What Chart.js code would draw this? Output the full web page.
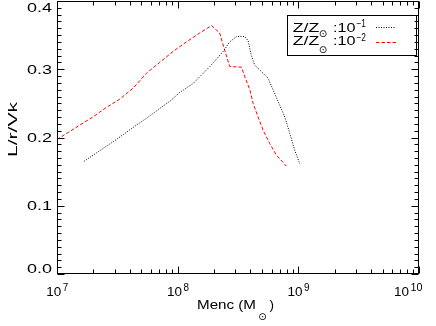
<!DOCTYPE html>
<html>
<head>
<meta charset="utf-8">
<script src="https://cdn.jsdelivr.net/npm/chart.js@4.4.1/dist/chart.umd.min.js"></script>
<style>
html,body{margin:0;padding:0;background:#fff;}
#wrap{width:436px;height:326px;position:relative;}
</style>
</head>
<body>
<div id="wrap"><canvas id="c" width="436" height="326"></canvas></div>
<script>
// Data
const massRedZ2 = [1.00e7,1.54e7,1.98e7,2.56e7,3.30e7,4.26e7,5.50e7,7.10e7,9.14e7,1.18e8,1.52e8,1.91e8,2.23e8,2.45e8,2.70e8,3.38e8,3.60e8,3.96e8,4.22e8,4.64e8,5.10e8,5.80e8,6.59e8,7.98e8];
const ratioRedZ2 = [0.197,0.218,0.230,0.244,0.256,0.272,0.294,0.310,0.326,0.340,0.353,0.364,0.353,0.328,0.304,0.303,0.289,0.270,0.250,0.230,0.211,0.191,0.174,0.158];
const massBlackZ1 = [1.67e7,3.10e7,4.54e7,5.86e7,8.87e7,1.04e8,1.34e8,1.85e8,2.38e8,2.70e8,3.07e8,3.60e8,3.83e8,4.08e8,4.35e8,4.79e8,5.61e8,6.17e8,7.02e8,7.73e8,8.49e8,9.35e8,1.03e9];
const ratioBlackZ1 = [0.165,0.197,0.218,0.2315,0.255,0.266,0.279,0.304,0.326,0.340,0.348,0.348,0.342,0.320,0.306,0.299,0.287,0.270,0.247,0.230,0.206,0.181,0.161];
const xTickValues = [1e7,1e8,1e9,1e10];
const xTickExponents = ['7','8','9','10'];
const yTickValues = [0.0,0.1,0.2,0.3,0.4];
const legendExponents = ['\u22121','\u22122'];
const legendBase = 'Z/Z';
const xTitle = 'Menc (M';
const yTitle = 'L/r/Vk';

const FONT = "'Liberation Sans', Arial, sans-serif";
const SUNFONT = "'DejaVu Sans', sans-serif";
const SUN = '\u2299';
Chart.defaults.font.family = FONT;
Chart.defaults.font.size = 13;
Chart.defaults.color = '#000';

// draw text left-aligned at x, horizontally stretched to the given width (wide IDL-like glyphs)
function fitText(ctx, text, x, y, width){
  ctx.textAlign = 'left';
  const m = ctx.measureText(text).width;
  const sx = width / m;
  ctx.save();
  ctx.translate(x, y);
  ctx.scale(sx, 1);
  ctx.fillText(text, 0, 0);
  ctx.restore();
}

const decor = {
  id: 'decor',
  afterDraw(chart){
    const ctx = chart.ctx, a = chart.chartArea;
    const xs = chart.scales.x, ys = chart.scales.y;
    const L = Math.round(a.left)+0.5, R = Math.round(a.right)-0.5, T = Math.round(a.top)+0.5, B = Math.round(a.bottom)-0.5;
    ctx.save();
    ctx.strokeStyle = '#000'; ctx.lineWidth = 1; ctx.setLineDash([]);
    ctx.strokeRect(L, T, R-L, B-T);
    ctx.beginPath();
    for (let i=0;i<=40;i++){
      const y = Math.round(ys.getPixelForValue(i/100))+0.5;
      const len = (i%10===0)?7:4;
      ctx.moveTo(L, y); ctx.lineTo(L+len, y);
      ctx.moveTo(R, y); ctx.lineTo(R-len, y);
    }
    for (let d=7; d<=10; d++){
      for (let m=1; m<=9; m++){
        if (d===10 && m>1) break;
        const x = Math.round(xs.getPixelForValue(m*Math.pow(10,d)))+0.5;
        const len = (m===1)?7:4;
        ctx.moveTo(x, B); ctx.lineTo(x, B-len);
        ctx.moveTo(x, T); ctx.lineTo(x, T+len);
      }
    }
    ctx.stroke();

    ctx.fillStyle = '#000';
    ctx.textBaseline = 'alphabetic';

    // y tick labels (clamped inside the axis extent like the reference)
    ctx.font = "13px " + FONT;
    yTickValues.forEach(v=>{
      let yc = ys.getPixelForValue(v);
      yc = Math.min(Math.max(yc, a.top+6.5), a.bottom-5.5);
      fitText(ctx, v.toFixed(1), 27, yc+4.7, 25);
    });

    // x tick labels 10^n
    xTickValues.forEach((v,i)=>{
      const x = xs.getPixelForValue(v);
      const e = xTickExponents[i];
      const wBase = 16, wExp = e.length*6.5;
      let left = x - (wBase + wExp)/2 + 0.5;
      if (left + wBase + wExp > a.right + 4) left = a.right + 4 - wBase - wExp;
      ctx.font = "13px " + FONT;
      fitText(ctx, '10', left, 295.5, wBase-1);
      ctx.font = "10px " + FONT;
      fitText(ctx, e, left + wBase + 0.5, 290.5, wExp-1);
    });

    // legend box
    ctx.strokeRect(287.5, 15.5, 129, 40);
    const rows = [{y:31.7, sun:34.5, ey:27, ds:[1,1.5], col:'#000', ly:27.5},
                  {y:45, sun:50.5, ey:40.5, ds:[3.5,2], col:'#ff0000', ly:42.5}];
    legendExponents.forEach((ex,i)=>{
      const r = rows[i];
      ctx.font = "13px " + FONT;
      fitText(ctx, legendBase, 292.7, r.y, 26.5);
      ctx.font = "10px " + SUNFONT;
      ctx.textAlign = 'center'; ctx.textBaseline='middle';
      ctx.fillText(SUN, 323, r.sun);
      ctx.textBaseline='alphabetic';
      ctx.font = "13px " + FONT;
      fitText(ctx, ':10', 333, r.y, 22.5);
      ctx.font = "10px " + FONT;
      fitText(ctx, ex, 356.5, r.ey, 9.5);
      ctx.save();
      ctx.strokeStyle = r.col; ctx.setLineDash(r.ds);
      ctx.beginPath(); ctx.moveTo(376, r.ly); ctx.lineTo(396, r.ly); ctx.stroke();
      ctx.restore();
    });

    // x title
    ctx.font = "13px " + FONT;
    fitText(ctx, xTitle, 197, 309, 59);
    ctx.font = "10px " + SUNFONT;
    ctx.textAlign = 'center'; ctx.textBaseline='middle';
    ctx.fillText(SUN, 262.5, 317.5);
    ctx.textBaseline='alphabetic';
    ctx.font = "13px " + FONT;
    fitText(ctx, ')', 269.5, 309, 4.5);

    // y title
    ctx.translate(16.7, 157);
    ctx.rotate(-Math.PI/2);
    ctx.font = "13px " + FONT;
    fitText(ctx, yTitle, 0, 0, 55);
    ctx.restore();
  }
};

new Chart(document.getElementById('c'), {
  type: 'line',
  data: {
    datasets: [
      { label: 'Z/Z\u2299 :10\u207B\u00B9', data: massBlackZ1.map((m,i)=>({x:m,y:ratioBlackZ1[i]})),
        borderColor: '#000', borderWidth: 1, borderDash: [1,1.5], pointRadius: 0, tension: 0, fill:false },
      { label: 'Z/Z\u2299 :10\u207B\u00B2', data: massRedZ2.map((m,i)=>({x:m,y:ratioRedZ2[i]})),
        borderColor: '#ff0000', borderWidth: 1, borderDash: [3.5,2], pointRadius: 0, tension: 0, fill:false }
    ]
  },
  options: {
    responsive: false,
    animation: false,
    devicePixelRatio: 1,
    layout: { padding: { top: 1, right: 17, left: 0, bottom: 0 } },
    plugins: { legend: { display: false }, tooltip: { enabled: false } },
    scales: {
      x: {
        type: 'logarithmic', min: 1e7, max: 1e10,
        afterBuildTicks: s => { s.ticks = xTickValues.map(v=>({value:v})); },
        afterFit: s => { s.height = 52; s.paddingLeft = 0; s.paddingRight = 0; },
        grid: { display: false, drawTicks: false },
        border: { display: false },
        ticks: { display: false }
      },
      y: {
        type: 'linear', min: 0, max: 0.4,
        afterBuildTicks: s => { s.ticks = yTickValues.map(v=>({value:v})); },
        afterFit: s => { s.width = 57; s.paddingTop = 0; s.paddingBottom = 0; },
        grid: { display: false, drawTicks: false },
        border: { display: false },
        ticks: { display: false }
      }
    }
  },
  plugins: [decor]
});
</script>
</body>
</html>
